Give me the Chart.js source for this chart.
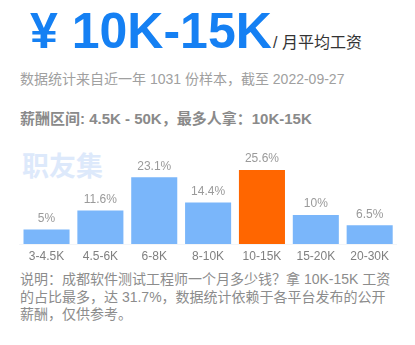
<!DOCTYPE html>
<html>
<head>
<meta charset="utf-8">
<script src="https://cdn.jsdelivr.net/npm/chart.js@4/dist/chart.umd.min.js"></script>
<style>
  html, body { margin: 0; padding: 0; background: #fff; }
  body { width: 415px; height: 345px; position: relative; overflow: hidden;
         font-family: "Liberation Sans", Arial, "Noto Sans CJK SC", sans-serif; }
  .abs { position: absolute; white-space: nowrap; }
  #salary { left: 30px; top: 2px; font-size: 50px; font-weight: bold; color: #1580f3; line-height: 58px; }
  #unit { left: 273px; top: 33px; font-size: 16px; color: #333; line-height: 20px; }
  #source { left: 20px; top: 70px; font-size: 14px; color: #a0a0a0; line-height: 18px; }
  #range { left: 20px; top: 110px; font-size: 15px; font-weight: bold; color: #8a8a8a; line-height: 18px; }
  #brand { left: 22px; top: 151px; font-size: 27px; font-weight: bold; color: #dde9fb; line-height: 32px; }
  #chart { position: absolute; left: 0; top: 130px; }
  #note { left: 20px; top: 271px; font-size: 14px; color: #8c8c8c; line-height: 17.5px; }
</style>
</head>
<body>
<div class="abs" id="salary">¥ 10K-15K</div>
<div class="abs" id="unit">/ 月平均工资</div>
<div class="abs" id="source">数据统计来自近一年 1031 份样本，截至 2022-09-27</div>
<div class="abs" id="range">薪酬区间: 4.5K - 50K，最多人拿：10K-15K</div>
<div class="abs" id="brand">职友集</div>
<canvas id="chart" width="415" height="140"></canvas>
<div class="abs" id="note">说明：成都软件测试工程师一个月多少钱？拿 10K-15K 工资<br>的占比最多，达 31.7%，数据统计依赖于各平台发布的公开<br>薪酬，仅供参考。</div>
<script>
// Salary bands and the share of samples in each (percent)
const bands = ['3-4.5K', '4.5-6K', '6-8K', '8-10K', '10-15K', '15-20K', '20-30K'];
const shares = [5, 11.6, 23.1, 14.4, 25.6, 10, 6.5];
const topBand = '10-15K';

const barColors = bands.map(b => b === topBand ? '#ff6600' : '#7ab6fa');

// Writes the percentage above every bar
const valueLabels = {
  id: 'valueLabels',
  afterDatasetsDraw(chart) {
    const ctx = chart.ctx;
    const meta = chart.getDatasetMeta(0);
    ctx.save();
    ctx.font = '12px "Liberation Sans", Arial, sans-serif';
    ctx.fillStyle = '#9a9a9a';
    ctx.textAlign = 'center';
    ctx.textBaseline = 'middle';
    meta.data.forEach((bar, i) => {
      ctx.fillText(shares[i] + '%', bar.x, bar.y - 11);
    });
    ctx.restore();
  }
};

new Chart(document.getElementById('chart'), {
  type: 'bar',
  data: {
    labels: bands,
    datasets: [{
      data: shares,
      backgroundColor: barColors,
      borderWidth: 0,
      categoryPercentage: 1,
      barPercentage: 0.855
    }]
  },
  options: {
    responsive: false,
    animation: false,
    layout: { padding: { left: 19.6, right: 18.4, top: 10, bottom: 1.6 } },
    plugins: { legend: { display: false }, tooltip: { enabled: false } },
    scales: {
      x: {
        grid: { display: false, drawTicks: false },
        border: { display: true, color: '#f3f5f8', width: 1 },
        ticks: {
          padding: 5,
          color: '#808080',
          font: { size: 12, family: '"Liberation Sans", Arial, sans-serif' }
        }
      },
      y: {
        display: false,
        min: 0,
        max: 36
      }
    }
  },
  plugins: [valueLabels]
});
</script>
</body>
</html>
